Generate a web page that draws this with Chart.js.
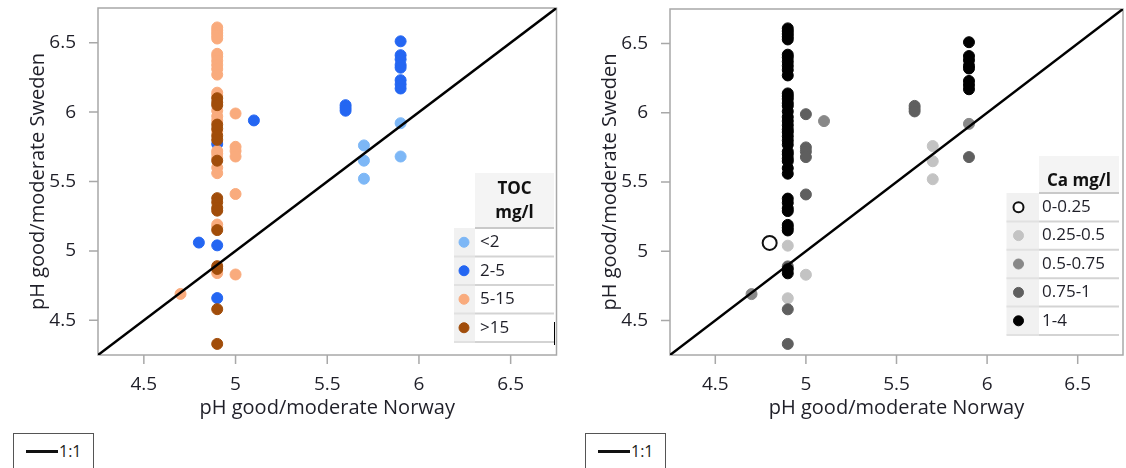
<!DOCTYPE html>
<html>
<head>
<meta charset="utf-8">
<title>pH good/moderate boundary, Norway vs Sweden</title>
<script src="https://cdn.jsdelivr.net/npm/chart.js@4.4.1/dist/chart.umd.min.js"></script>
<style>
  html, body { margin: 0; padding: 0; width: 1126px; height: 468px; overflow: hidden; background: #fff; }
  canvas { position: absolute; top: 0; }
  #tocChart { left: 0; }
  #caChart { left: 566px; }
  .key {
    position: absolute; top: 433px; width: 81px; height: 44px;
    box-sizing: border-box; border: 1.5px solid #555;
    font: 16px 'Open Sans', sans-serif; color: #222;
    display: flex; align-items: center; padding: 0 0 8px 12px;
  }
  .key span { display: inline-block; width: 32px; height: 3px; background: #111; margin-right: 1px; }
</style>
</head>
<body>
<canvas id="tocChart" width="563" height="430"></canvas>
<canvas id="caChart" width="566" height="430"></canvas>
<div class="key" style="left:13px"><span></span>1:1</div>
<div class="key" style="left:585px"><span></span>1:1</div>
<script>
// pH at the good/moderate class boundary, one entry per site
const norway = [
  4.9, 4.9, 4.9, 4.9, 4.9, 4.9, 4.9, 4.9, 4.9, 4.9, 4.9, 4.9, 4.9, 4.9, 4.9,
  4.9, 4.9, 4.9, 4.9, 4.9, 4.9, 4.9, 4.9, 4.9, 4.9, 4.9, 4.9, 4.9, 4.9, 4.9,
  4.9, 4.9, 4.9, 4.9, 4.9, 4.9, 4.9, 4.9, 4.9, 4.9, 4.9, 4.9, 4.9, 4.9, 4.9,
  4.7, 4.8, 5.0, 5.0, 5.0, 5.0, 5.0, 5.0, 5.1, 5.6, 5.6, 5.6, 5.7, 5.7, 5.7,
  5.9, 5.9, 5.9, 5.9, 5.9, 5.9, 5.9, 5.9, 5.9, 5.9
];
const sweden = [
  6.61, 6.59, 6.57, 6.55, 6.53, 6.42, 6.40, 6.37, 6.34, 6.31, 6.27, 6.14, 6.12, 6.10, 6.07,
  6.05, 6.01, 5.97, 5.94, 5.91, 5.88, 5.86, 5.83, 5.80, 5.77, 5.72, 5.70, 5.67, 5.65, 5.60,
  5.56, 5.38, 5.35, 5.31, 5.29, 5.19, 5.17, 5.15, 5.04, 4.89, 4.87, 4.84, 4.66, 4.58, 4.33,
  4.69, 5.06, 5.99, 5.75, 5.72, 5.68, 5.41, 4.83, 5.94, 6.05, 6.03, 6.01, 5.76, 5.65, 5.52,
  6.51, 6.41, 6.38, 6.34, 6.32, 6.23, 6.20, 6.17, 5.92, 5.68
];
const tocGroup = [
  '5-15', '5-15', '5-15', '5-15', '5-15', '5-15', '5-15', '5-15', '5-15', '5-15', '5-15', '5-15', '5-15', '>15', '>15',
  '>15', '5-15', '5-15', '5-15', '>15', '>15', '5-15', '>15', '>15', '2-5', '5-15', '5-15', '5-15', '>15', '5-15',
  '5-15', '>15', '>15', '>15', '>15', '5-15', '5-15', '>15', '2-5', '>15', '>15', '5-15', '2-5', '>15', '>15',
  '5-15', '2-5', '5-15', '5-15', '5-15', '5-15', '5-15', '5-15', '2-5', '2-5', '2-5', '2-5', '<2', '<2', '<2',
  '2-5', '2-5', '2-5', '2-5', '2-5', '2-5', '2-5', '2-5', '<2', '<2'
];
const caGroup = [
  '1-4', '1-4', '1-4', '1-4', '1-4', '1-4', '1-4', '1-4', '1-4', '1-4', '1-4', '1-4', '1-4', '1-4', '1-4',
  '1-4', '1-4', '1-4', '1-4', '1-4', '1-4', '1-4', '1-4', '1-4', '1-4', '1-4', '1-4', '1-4', '1-4', '1-4',
  '1-4', '1-4', '1-4', '1-4', '1-4', '1-4', '1-4', '1-4', '0.25-0.5', '0.75-1', '1-4', '1-4', '0.25-0.5', '0.75-1', '0.75-1',
  '0.5-0.75', '0-0.25', '0.75-1', '0.75-1', '0.75-1', '0.75-1', '0.75-1', '0.25-0.5', '0.5-0.75', '0.75-1', '0.75-1', '0.75-1', '0.25-0.5', '0.25-0.5', '0.25-0.5',
  '1-4', '1-4', '1-4', '1-4', '1-4', '1-4', '1-4', '1-4', '0.5-0.75', '0.75-1'
];

const tocLabels = ['<2', '2-5', '5-15', '>15'];
const caLabels = ['0-0.25', '0.25-0.5', '0.5-0.75', '0.75-1', '1-4'];
const axisTicks = [4.5, 5, 5.5, 6, 6.5];
const oneToOne = [4.25, 6.75];

const FONT = "'Open Sans', sans-serif";
const TEXT = '#1f1f28';
Chart.defaults.font.family = FONT;

const tocStyle = {
  '<2':   { backgroundColor: '#7db7f6', borderColor: '#7db7f6' },
  '2-5':  { backgroundColor: '#2466f2', borderColor: '#2466f2' },
  '5-15': { backgroundColor: '#f9ab7d', borderColor: '#f9ab7d' },
  '>15':  { backgroundColor: '#a14d0a', borderColor: '#a14d0a' }
};
const caStyle = {
  '0-0.25':   { backgroundColor: '#fff', borderColor: '#111', borderWidth: 2, pointRadius: 7 },
  '0.25-0.5': { backgroundColor: '#c3c3c3', borderColor: '#c3c3c3' },
  '0.5-0.75': { backgroundColor: '#888', borderColor: '#888' },
  '0.75-1':   { backgroundColor: '#5f5f5f', borderColor: '#5f5f5f' },
  '1-4':      { backgroundColor: '#000', borderColor: '#000' }
};

function tickLabel(v) {
  const t = axisTicks.find(a => Math.abs(a - v) < 1e-6);
  return t === undefined ? null : String(t);
}

// gray box round the plot area plus long ticks at labels, short ones between
const axisFrame = {
  id: 'axisFrame',
  beforeDatasetsDraw(chart) {
    const { ctx, chartArea: a, scales: { x, y } } = chart;
    ctx.save();
    ctx.strokeStyle = '#a8a8a8';
    ctx.lineWidth = 1.5;
    ctx.strokeRect(a.left, a.top, a.right - a.left, a.bottom - a.top);
    ctx.beginPath();
    x.ticks.forEach(t => {
      const px = x.getPixelForValue(t.value);
      ctx.moveTo(px, a.bottom);
      ctx.lineTo(px, a.bottom + (t.label ? 9 : 5));
    });
    y.ticks.forEach(t => {
      const py = y.getPixelForValue(t.value);
      ctx.moveTo(a.left, py);
      ctx.lineTo(a.left - (t.label ? 9 : 5), py);
    });
    ctx.stroke();
    ctx.restore();
  }
};

// legend drawn as a small table: marker column + label column under a header
const tableLegend = {
  id: 'tableLegend',
  afterDatasetsDraw(chart, args, o) {
    const { ctx } = chart;
    const cellLeft = o.left + o.markerWidth;
    const rowsTop = o.top + o.headerHeight;
    const rowsBottom = rowsTop + o.rowHeight * o.labels.length;
    ctx.save();
    ctx.fillStyle = '#f4f4f4';
    ctx.fillRect(cellLeft, o.top, o.labelWidth, o.headerHeight);
    ctx.fillStyle = '#f1f1f1';
    ctx.fillRect(o.left, rowsTop, o.markerWidth, rowsBottom - rowsTop);
    ctx.fillStyle = '#fff';
    ctx.fillRect(cellLeft, rowsTop, o.labelWidth, rowsBottom - rowsTop);

    ctx.fillStyle = '#111';
    ctx.font = `bold 17px ${FONT}`;
    ctx.textAlign = 'center';
    ctx.textBaseline = 'middle';
    o.header.forEach((line, i) => {
      ctx.fillText(line, cellLeft + o.labelWidth / 2, o.top + o.headerTextOffset + i * 24);
    });

    ctx.lineWidth = 2;
    ctx.strokeStyle = '#c9c9c9';
    ctx.beginPath();
    ctx.moveTo(cellLeft, rowsTop);
    ctx.lineTo(cellLeft + o.labelWidth, rowsTop);
    ctx.stroke();

    ctx.font = `17px ${FONT}`;
    ctx.textAlign = 'left';
    o.labels.forEach((label, i) => {
      const ds = chart.data.datasets.find(d => d.label === label);
      const cy = rowsTop + o.rowHeight * (i + 0.5);
      const sep = rowsTop + o.rowHeight * (i + 1);
      ctx.strokeStyle = '#e1e1e1';
      ctx.beginPath();
      ctx.moveTo(o.left, sep);
      ctx.lineTo(cellLeft, sep);
      ctx.stroke();
      ctx.strokeStyle = '#d3d3d3';
      ctx.beginPath();
      ctx.moveTo(cellLeft, sep);
      ctx.lineTo(cellLeft + o.labelWidth, sep);
      ctx.stroke();

      ctx.beginPath();
      ctx.arc(o.left + o.markerOffset, cy, 5, 0, Math.PI * 2);
      ctx.fillStyle = ds.backgroundColor;
      ctx.fill();
      ctx.strokeStyle = ds.borderColor;
      ctx.lineWidth = ds.borderWidth || 1;
      ctx.stroke();
      ctx.lineWidth = 2;

      ctx.fillStyle = TEXT;
      ctx.fillText(label, cellLeft + o.labelPad, cy);
    });
    if (o.caret) {
      ctx.strokeStyle = '#000';
      ctx.lineWidth = 1;
      ctx.beginPath();
      ctx.moveTo(cellLeft + o.labelWidth + 0.5, rowsBottom - 20);
      ctx.lineTo(cellLeft + o.labelWidth + 0.5, rowsBottom + 3);
      ctx.stroke();
    }
    ctx.restore();
  }
};

function pointSets(groups, order, style) {
  return order.map(label => Object.assign({
    label,
    data: norway.map((x, i) => ({ x, y: sweden[i], g: groups[i] })).filter(p => p.g === label),
    pointRadius: 5.5,
    borderWidth: 1
  }, style[label]));
}

function makeChart(id, groups, drawOrder, style, legend, yWidth, titlePad, padRight) {
  const ticks = { stepSize: 0.25, autoSkip: false, maxRotation: 0, color: TEXT, font: { size: 19 }, callback: tickLabel };
  return new Chart(document.getElementById(id), {
    type: 'scatter',
    data: {
      datasets: [
        {
          label: '1:1',
          data: oneToOne.map(v => ({ x: v, y: v })),
          showLine: true,
          borderColor: '#000',
          borderWidth: 2.5,
          pointRadius: 0
        },
        ...pointSets(groups, drawOrder, style)
      ]
    },
    options: {
      responsive: false,
      animation: false,
      events: [],
      layout: { padding: { top: 8, right: padRight, left: 0, bottom: 0 } },
      plugins: { legend: { display: false }, tooltip: { enabled: false }, tableLegend: legend },
      scales: {
        x: {
          type: 'linear', min: 4.25, max: 6.75,
          grid: { display: false }, border: { display: false },
          ticks: Object.assign({ padding: 10 }, ticks),
          title: { display: true, text: 'pH good/moderate Norway', color: TEXT, font: { size: 20 }, padding: { top: 0, bottom: 10 } },
          afterFit(s) { s.height = 75; s.paddingLeft = 0; s.paddingRight = 0; }
        },
        y: {
          type: 'linear', min: 4.25, max: 6.75,
          grid: { display: false }, border: { display: false },
          ticks: Object.assign({ padding: 14 }, ticks),
          title: { display: true, text: 'pH good/moderate Sweden', color: TEXT, font: { size: 20 }, padding: { top: titlePad, bottom: 0 } },
          afterFit(s) { s.width = yWidth; s.paddingTop = 0; s.paddingBottom = 0; }
        }
      }
    },
    plugins: [axisFrame, tableLegend]
  });
}

makeChart('tocChart', tocGroup, ['>15', '5-15', '2-5', '<2'], tocStyle, {
  labels: tocLabels, header: ['TOC', 'mg/l'],
  left: 454, top: 173, markerWidth: 21, labelWidth: 79, headerHeight: 55, rowHeight: 28.5,
  headerTextOffset: 16, markerOffset: 10, labelPad: 5, caret: true
}, 98, 26, 2);

makeChart('caChart', caGroup, ['1-4', '0.75-1', '0.5-0.75', '0.25-0.5', '0-0.25'], caStyle, {
  labels: caLabels, header: ['Ca mg/l'],
  left: 440.5, top: 156, markerWidth: 32.5, labelWidth: 80, headerHeight: 37, rowHeight: 28.4,
  headerTextOffset: 25, markerOffset: 12, labelPad: 3, caret: false
}, 104, 32, 0);
</script>
</body>
</html>
